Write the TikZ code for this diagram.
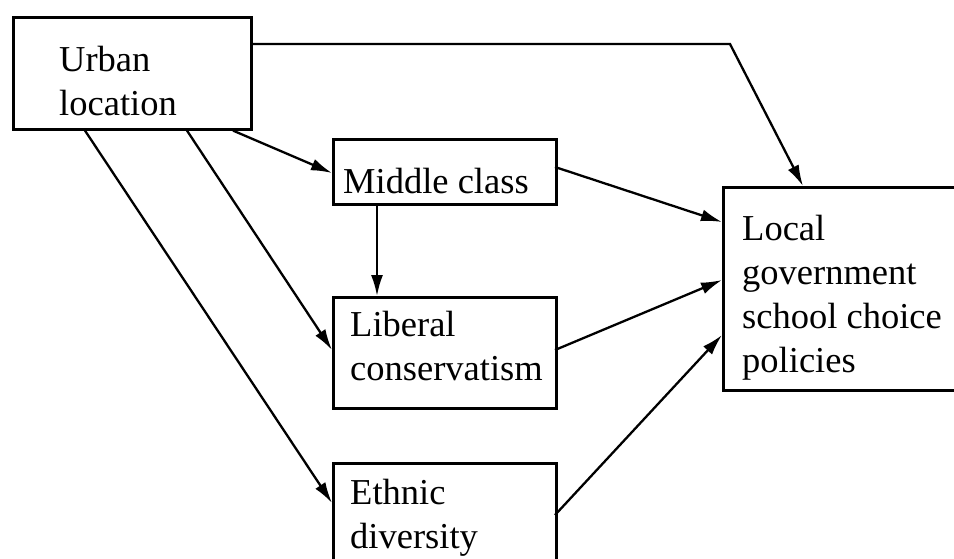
\documentclass[tikz,border=0pt]{standalone}
\usepackage{fontspec}
\setmainfont{Liberation Serif}
\usetikzlibrary{calc,arrows.meta}
\begin{document}
\begin{tikzpicture}[x=1pt,y=-1pt,
  boxnode/.style={draw,line width=2.6pt,minimum width=#1,anchor=north west,inner sep=0pt},
  lbl/.style={anchor=base west,align=left,inner sep=0pt,font=\fontsize{36.5}{44}\selectfont},
  conn/.style={line width=2.3pt,-{Latex[length=21pt,width=12pt]}}]
\clip (0,0) rectangle (954,558);
\fill[white] (0,0) rectangle (954,558);
\node[boxnode=238pt,minimum height=112pt] (urban) at (12,16) {};
\node[boxnode=223pt,minimum height=65pt] (middle) at (332,138) {};
\node[boxnode=223pt,minimum height=111pt] (liberal) at (332,296) {};
\node[boxnode=223pt,minimum height=130pt] (ethnic) at (332,462) {};
\node[boxnode=280pt,minimum height=203pt] (local) at (722,186) {};
\node[lbl] (turban) at (59,115) {Urban\\location};
\node[lbl] (tmiddle) at (343,193) {Middle class};
\node[lbl] (tliberal) at (350,380) {Liberal\\conservatism};
\node[lbl] (tethnic) at (350,548) {Ethnic\\diversity};
\node[lbl] (tlocal) at (742,372) {Local\\government\\school choice\\policies};
\draw[conn] ($(urban.north east)+(0,28)$) -- (730,44) -- ($(local.north west)+(81,0)$);
\draw[conn] ($(urban.south west)+(221,0)$) -- ($(middle.north west)+(0,35)$);
\draw[conn] ($(urban.south west)+(175,0)$) -- ($(liberal.north west)+(0,54)$);
\draw[conn] ($(urban.south west)+(73,0)$) -- ($(ethnic.north west)+(0,41)$);
\draw[conn] ($(middle.south west)+(45,0)$) -- ($(liberal.north west)+(45,0)$);
\draw[conn] ($(middle.north west)+(223,29)$) -- ($(local.north west)+(0,36)$);
\draw[conn] ($(liberal.north west)+(223,54)$) -- ($(local.north west)+(0,94)$);
\draw[conn] ($(ethnic.north west)+(223,53)$) -- ($(local.north west)+(0,149)$);
\end{tikzpicture}
\end{document}
